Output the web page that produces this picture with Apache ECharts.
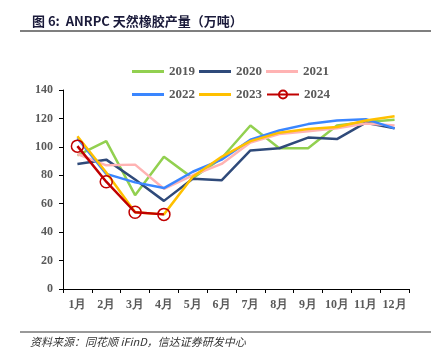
<!DOCTYPE html>
<html><head><meta charset="utf-8">
<script src="https://cdn.jsdelivr.net/npm/echarts@6/dist/echarts.min.js"></script>
<style>html,body{margin:0;padding:0;background:#fff;}#c{width:431px;height:360px;}</style>
</head><body><div id="c"></div>
<script>
const months = ['1月','2月','3月','4月','5月','6月','7月','8月','9月','10月','11月','12月'];
const s2019 = [94, 104, 66, 93, 78, 92, 115, 99, 99, 115, 117.5, 119];
const s2020 = [88, 91, 77, 62, 77.5, 76.5, 97.5, 99, 106.5, 105.5, 117, 113];
const s2021 = [95, 87, 87.5, 70.5, 80, 88, 103, 109, 111, 113, 116.5, 115];
const s2022 = [106, 81, 75, 71, 82.5, 91, 105, 111.5, 116, 118.5, 119.5, 113];
const s2023 = [107.5, 82, 54, 52.5, 79, 93, 104, 110, 112.5, 114, 118.5, 121.5];
const s2024 = [100.5, 75.5, 54, 52.5];
const yTicks = [0, 20, 40, 60, 80, 100, 120, 140];

const chart = echarts.init(document.getElementById('c'), null, {renderer:'canvas'});
const labelFont = {color:'#595959', fontFamily:'Liberation Serif', fontWeight:'bold', fontSize:12};
function line(name, data, color, z){
  return {name, type:'line', data, symbol:'none', smooth:false, z,
    lineStyle:{color, width:2.5}, itemStyle:{color}, emphasis:{disabled:true}};
}
const barIcon = 'path://M0,0 L32,0 L32,3 L0,3 Z';
const legendText = {color:'#595959', fontFamily:'Liberation Serif', fontWeight:'bold', fontSize:13};
chart.setOption({
  animation:false,
  title:{text:'图 6:  ANRPC 天然橡胶产量（万吨）', left:27, top:10,
    textStyle:{fontSize:13, fontWeight:'bold', color:'#1a1a3a', fontFamily:'Noto Sans CJK SC'}},
  legend:[
    {data:[{name:'2019',icon:barIcon},{name:'2020',icon:barIcon},{name:'2021',icon:barIcon}], left:132, top:65, itemWidth:32, itemHeight:10, itemGap:4, textStyle:legendText, padding:0},
    {data:[{name:'2022',icon:barIcon},{name:'2023',icon:barIcon},'2024'], left:132, top:88, itemWidth:32, itemHeight:10, itemGap:4, textStyle:legendText, padding:0}
  ],
  grid:{left:63, right:22, top:90, bottom:71},
  xAxis:{type:'category', data:months, boundaryGap:true,
    axisLine:{lineStyle:{color:'#000', width:1}},
    axisTick:{show:true, alignWithLabel:false, interval:0, length:4, lineStyle:{color:'#000'}},
    axisLabel:Object.assign({margin:10, interval:0}, labelFont)},
  yAxis:{type:'value', min:0, max:140, interval:20,
    axisLine:{show:true, lineStyle:{color:'#000', width:1}},
    axisTick:{show:true, inside:false, length:4, lineStyle:{color:'#000'}},
    splitLine:{show:false},
    axisLabel:Object.assign({margin:10}, labelFont)},
  series:[
    line('2019', s2019, '#92D050', 2),
    line('2020', s2020, '#2F4A7A', 3),
    line('2021', s2021, '#FFB3B3', 4),
    line('2022', s2022, '#3A86FF', 5),
    line('2023', s2023, '#FFC000', 6),
    {name:'2024', type:'line', data:s2024, z:7, symbol:'circle', symbolSize:12,
      lineStyle:{color:'#C00000', width:2.5},
      itemStyle:{color:'rgba(255,255,255,0)', borderColor:'#C00000', borderWidth:1.5},
      emphasis:{disabled:true}}
  ],
  graphic:[
    {type:'line', shape:{x1:20, y1:31, x2:431, y2:31}, style:{stroke:'#555', lineWidth:1.5}},
    {type:'line', shape:{x1:20, y1:332, x2:431, y2:332}, style:{stroke:'#777', lineWidth:1.5}},
    {type:'text', left:30, top:336, style:{text:'资料来源：同花顺 iFinD，信达证券研发中心', fontSize:11, fontStyle:'italic', fill:'#333', fontFamily:'Noto Sans CJK SC'}}
  ]
});
</script></body></html>
